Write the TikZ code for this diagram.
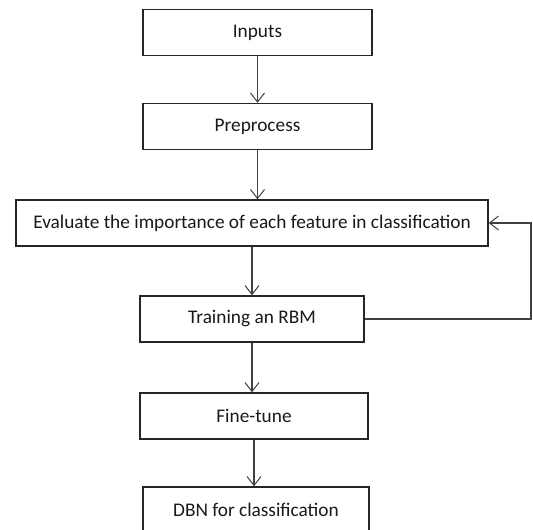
\documentclass[tikz,border=0pt]{standalone}
\usepackage{fontspec}
\setmainfont{Carlito}
\usetikzlibrary{arrows.meta}
\begin{document}
\begin{tikzpicture}[x=1pt,y=-1pt,
  box/.style={draw=black!85, line width=1.4pt, rectangle, minimum height=46pt,
    inner sep=0pt, font=\fontsize{19.3}{22}\selectfont, text=black!90},
  flow/.style={draw=black!75, line width=1.1pt,
    -{Straight Barb[length=9pt,width=14pt,line width=1pt]}}]
\useasboundingbox (0,0) rectangle (533,530);
\begin{scope}
\clip (0,0) rectangle (533,530);
\node[box, minimum width=229pt] (inp)  at (257.5,32.5) {Inputs};
\node[box, minimum width=229pt] (pre)  at (257.5,126.5) {Preprocess};
\node[box, minimum width=472pt] (eval) at (252,223) {Evaluate the importance of each feature in classification};
\node[box, minimum width=224pt] (rbm)  at (252,319) {Training an RBM};
\node[box, minimum width=228pt] (fine) at (254,416) {Fine-tune};
\node[box, minimum width=226pt] (dbn)  at (256,510) {DBN for classification};
\coordinate (loop) at (531,319);

\draw[flow] (inp.south) -- (inp.south |- pre.north);
\draw[flow] (pre.south) -- (pre.south |- eval.north);
\draw[flow] (eval.south) -- (eval.south |- rbm.north);
\draw[flow] (rbm.south) -- (rbm.south |- fine.north);
\draw[flow] (fine.south) -- (fine.south |- dbn.north);
\draw[flow] (rbm.east) -- (loop) |- (eval.east);
\end{scope}
\end{tikzpicture}
\end{document}
